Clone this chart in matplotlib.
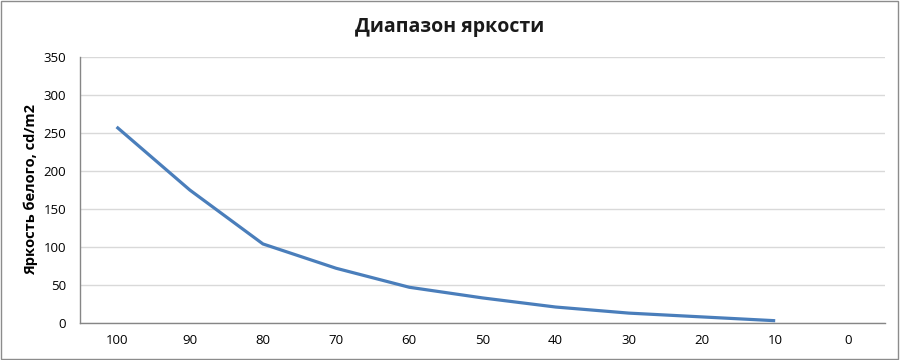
import matplotlib
matplotlib.use("Agg")
import matplotlib.pyplot as plt
from matplotlib.patches import Rectangle

# -------------------
# Data
# -------------------
levels = ["100", "90", "80", "70", "60", "50", "40", "30", "20", "10", "0"]
brightness = [258, 175, 104, 72, 47, 33, 21, 13, 8, 3]   # no value for "0"

TITLE = "Диапазон яркости"
Y_LABEL = "Яркость белого, cd/m2"
Y_TICKS = [0, 50, 100, 150, 200, 250, 300, 350]

LINE_COLOR = "#4A7EBB"
GRID_COLOR = "#D9D9D9"
AXIS_COLOR = "#868686"

plt.rcParams["font.family"] = ["Open Sans", "DejaVu Sans"]


def main():
    fig = plt.figure(figsize=(9, 3.6), dpi=100)
    ax = fig.add_axes([0.0889, 0.1028, 0.8944, 0.7389])

    # outer chart border
    fig.patches.append(Rectangle((0.001, 0.002), 0.997, 0.995,
                                 transform=fig.transFigure, fill=False,
                                 edgecolor="#8C8C8C", linewidth=1.0))

    x = list(range(len(brightness)))
    ax.plot(x, brightness, color=LINE_COLOR, linewidth=2.3,
            solid_capstyle="butt", zorder=3)

    ax.set_xlim(-0.5, len(levels) - 0.5)
    ax.set_ylim(0, 350)
    ax.set_xticks(range(len(levels)))
    ax.set_xticklabels(levels)
    ax.set_yticks(Y_TICKS)

    ax.grid(True, axis="y", color=GRID_COLOR, linewidth=1.0, zorder=0)
    ax.set_axisbelow(True)
    for side in ("top", "right"):
        ax.spines[side].set_visible(False)
    for side in ("left", "bottom"):
        ax.spines[side].set_color(AXIS_COLOR)
        ax.spines[side].set_linewidth(1.0)

    ax.tick_params(axis="both", length=0, labelsize=9.5, colors="black", pad=8)
    ax.tick_params(axis="y", pad=10)

    ax.set_ylabel(Y_LABEL, fontsize=10.5, fontweight="bold", labelpad=4)
    fig.text(0.5, 0.925, TITLE, ha="center", va="center",
             fontsize=14, fontweight="bold", color="#1a1a1a")

    fig.savefig("out.png", dpi=100)


if __name__ == "__main__":
    main()
